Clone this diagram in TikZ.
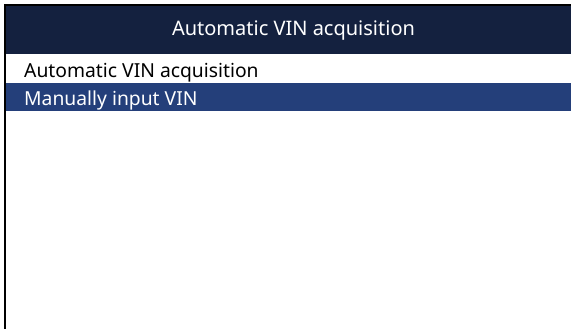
\documentclass[tikz,border=0pt]{standalone}
\usepackage{fontspec}
\setmainfont{Noto Sans}
\definecolor{headnavy}{HTML}{14213F}
\definecolor{selblue}{HTML}{243F7A}

\begin{document}
\begin{tikzpicture}[x=1pt, y=-1pt,
    menutext/.style ={inner sep=0pt, anchor=base west, font=\fontsize{19.3}{22}\selectfont}]
   \useasboundingbox (0,0) rectangle (571,329);
   \fill[white] (0,0) rectangle (571,329);
   % title bar and selected line
   \fill[headnavy] (5,5) rectangle (571,54);
   \fill[selblue] (5,83) rectangle (571,111);
   \draw[line width=2pt] (5,329) -- (5,5) -- (571,5);
   \node[menutext, text=white, anchor=base, font=\fontsize{20}{23}\selectfont] (title) at (293.5,36) {Automatic VIN acquisition};
   \node[menutext] (auto)   at (24,78) {Automatic VIN acquisition};
   \node[menutext, text=white] (manual) at (24,106) {Manually input VIN};
\end{tikzpicture}
\end{document}
